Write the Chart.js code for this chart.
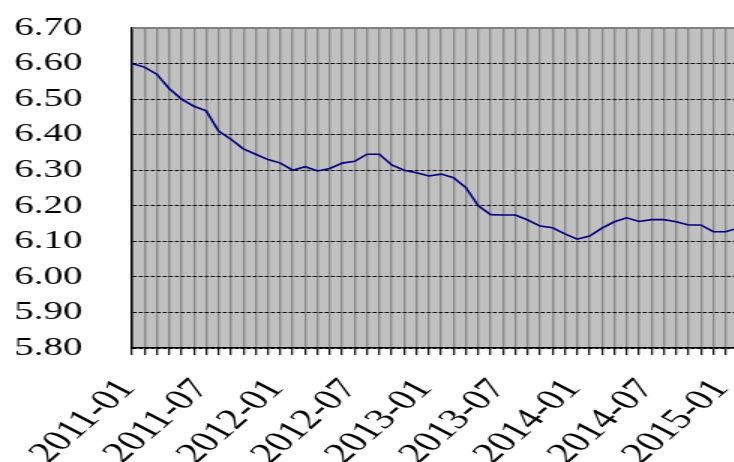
<!DOCTYPE html>
<html>
<head>
<meta charset="utf-8">
<script src="https://cdn.jsdelivr.net/npm/chart.js@4.4.1/dist/chart.umd.min.js"></script>
<style>
html, body { margin: 0; padding: 0; background: #fff; overflow: hidden; width: 734px; height: 462px; }
#wrap { width: 492px; height: 462px; transform: scaleX(1.5); transform-origin: 0 0; }
</style>
</head>
<body>
<div id="wrap"><canvas id="myChart" width="492" height="462"></canvas></div>
<script>
// months 2011-01 .. 2015-02
var months = [];
for (var y = 2011; y <= 2015; y++) {
    for (var m = 1; m <= 12; m++) {
        if (y == 2015 && m > 2) break;
        months.push(y + '-' + (m < 10 ? '0' + m : m));
    }
}
var rates = [
    6.60, 6.59, 6.57, 6.53, 6.50, 6.48, 6.467, 6.41, 6.387, 6.36, 6.345, 6.33,
    6.32, 6.30, 6.31, 6.298, 6.305, 6.32, 6.325, 6.345, 6.345, 6.315, 6.30, 6.293,
    6.284, 6.289, 6.279, 6.251, 6.20, 6.175, 6.174, 6.174, 6.16, 6.143, 6.138, 6.121,
    6.106, 6.115, 6.137, 6.155, 6.166, 6.156, 6.161, 6.161, 6.155, 6.146, 6.146, 6.127,
    6.127, 6.137
];
var yTicks = [5.8, 6.7, 0.1]; // min, max, step

var font = "'Liberation Serif', 'Times New Roman', serif";

var plotBg = {
    id: 'plotBg',
    beforeDraw: function (chart) {
        var a = chart.chartArea, ctx = chart.ctx;
        ctx.save();
        ctx.fillStyle = '#c0c0c0';
        ctx.fillRect(a.left, a.top, a.right - a.left, a.bottom - a.top);
        ctx.restore();
    },
    afterDraw: function (chart) {
        var a = chart.chartArea, ctx = chart.ctx;
        ctx.save();
        ctx.strokeStyle = '#808080';
        ctx.lineWidth = 2;
        ctx.beginPath();
        ctx.moveTo(a.left, a.top);
        ctx.lineTo(a.right, a.top);
        ctx.stroke();
        ctx.restore();
    }
};

const ctx = document.getElementById('myChart').getContext('2d');
const myChart = new Chart(ctx, {
    type: 'line',
    data: {
        labels: months,
        datasets: [{
            data: rates,
            borderColor: '#000080',
            borderWidth: 1.6,
            pointRadius: 0,
            tension: 0,
            fill: false
        }]
    },
    options: {
        responsive: false,
        animation: false,
        layout: { padding: { top: 28, right: 0, left: 0, bottom: 0 } },
        plugins: { legend: { display: false }, tooltip: { enabled: false } },
        scales: {
            x: {
                offset: false,
                grid: { color: '#8a8a8a', lineWidth: 1.4, drawTicks: true, tickLength: 7, tickColor: '#000', tickWidth: 1.2 },
                border: { display: true, color: '#000', width: 1.5 },
                ticks: {
                    autoSkip: false,
                    maxRotation: 52,
                    minRotation: 52,
                    padding: 18,
                    labelOffset: -3,
                    color: '#000',
                    font: { family: font, size: 29 },
                    callback: function (v, i) { return i % 6 == 0 ? months[i] : ''; }
                },
                afterFit: function (scale) {
                    scale.height = 114;
                    scale.paddingRight = 0;
                    scale.paddingLeft = 0;
                }
            },
            y: {
                min: yTicks[0],
                max: yTicks[1],
                grid: {
                    drawTicks: false,
                    lineWidth: 1,
                    color: function (c) { return (c.tick && Math.abs(c.tick.value - 6.7) < 0.001) ? 'rgba(0,0,0,0)' : '#000'; }
                },
                border: { display: true, color: '#000', width: 1.5, dash: [2.7, 1.3] },
                ticks: {
                    autoSkip: false,
                    stepSize: yTicks[2],
                    padding: 33,
                    color: '#000',
                    font: { family: font, size: 26 },
                    callback: function (v) { return v.toFixed(2); }
                },
                afterFit: function (scale) {
                    scale.width = 88;
                    scale.paddingTop = 0;
                    scale.paddingBottom = 0;
                }
            }
        }
    },
    plugins: [plotBg]
});
</script>
</body>
</html>
